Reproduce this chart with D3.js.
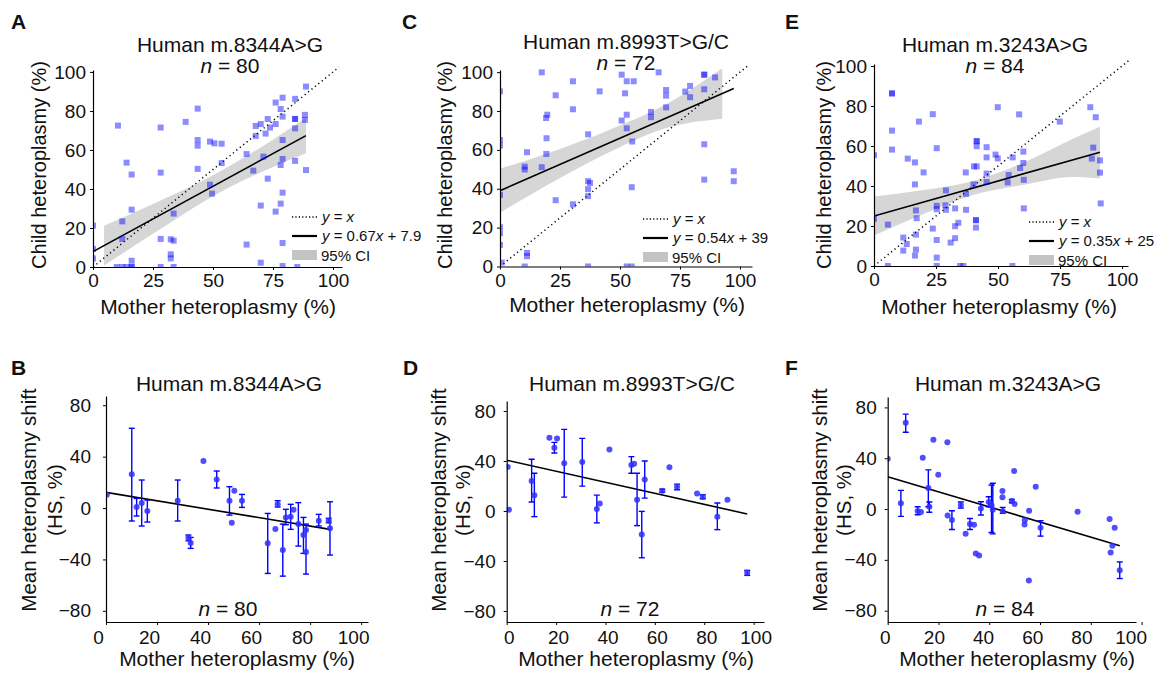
<!DOCTYPE html>
<html><head><meta charset="utf-8">
<script src="https://cdn.jsdelivr.net/npm/d3@7"></script>
<style>
body{margin:0;background:#fff;}
svg{font-family:"Liberation Sans",Arial,Helvetica,sans-serif;}
</style></head><body>
<svg id="chart" width="1160" height="673"></svg>
<script>
// ---------------- DATA ----------------
// Panel A  (m.8344A>G)  child vs mother heteroplasmy
const motherA = [88.75,79,84.2,76.1,78.2,43.6,72.8,79,84.2,84.2,88.3,88.3,84.2,38.6,10.4,28.2,67.8,69.9,73.75,71.9,67.8,76.1,79,43.6,43.6,48.75,50.6,53.6,64,71,79,84.2,53.6,14,16.1,28.2,43.6,88.75,66.8,72.8,78.2,48.75,49.6,79,16.1,69.9,78.2,76.1,33.6,12.2,12.2,28.2,32.4,33.6,32.4,32.4,16.1,64,79,69.9,79,9.9,12.2,14,16.1,16.1,28.2,33.6,85.1,0,0,0];
const childA  = [92.5,86.8,86.2,84.3,81,81.2,75.9,77.1,75.9,75.9,78,75.4,71.1,74.4,72.5,71.5,72.3,73.3,71.5,68.4,67.2,73.3,65.1,65.1,62.2,64.3,63.4,63.2,57.9,56.6,55.4,54.4,53.3,53.5,47.4,48.4,50.3,49.7,49.4,45.3,52.3,42.2,37.6,38.1,29.4,31.5,32.5,28.4,27.4,23.4,14.4,14.4,14.2,13.5,6.5,4.4,3.2,11.5,12.3,2.2,0.5,0,0,0,0,0,0,0,0,21.2,9.2,4.4];
const fitA = [0.67, 7.9];           // slope, intercept
const fitEndA = 88.75;
const ciXA  = [4.6, 25, 50, 75, 88.75];
const ciLoA = [0.8, 17, 36.3, 51.3, 58.3];
const ciHiA = [21.2, 32.3, 47, 65.3, 76.5];

// Panel C  (m.8993T>G/C)
const motherC = [17.4,50.7,66.1,85.1,85.1,89.6,30.4,52.8,55.7,0,41.5,52.1,23.2,69.2,69.2,77.2,79.2,79.2,85.1,30.4,19.7,19.2,62.9,62.9,69.2,52.8,50.7,52.8,36.7,19.4,0,0,55.1,11.25,19.3,10.3,10.3,17.4,36.7,37.5,36.7,36.7,54.9,23.2,30.4,0,0,0,0,11.25,11.25,0.7,85.1,85.1,97.4,97.4,10.3,36.7,52.8,54.9];
const childC  = [99.9,98.7,99.9,98.7,98.7,97.3,95.3,95.3,95.3,90.1,90.1,89.1,88.1,90.8,87.9,90,92.9,87.1,91.2,80.9,78.1,76.4,79.5,76.8,81.9,78.1,75.1,71.1,68,66,65.1,62.2,64.3,58.8,57.9,51.4,49.9,51.1,43.9,43,39.8,36.2,40.8,34.1,32,36.8,20.2,17.1,11.1,7,5.3,2,62.9,44.7,49,43.9,0,0,0,0];
const fitC = [0.54, 39];
const fitEndC = 97.4;
const ciXC  = [0, 25, 45, 70, 92.6];
const ciLoC = [27.7, 45.5, 58.5, 71.5, 76];
const ciHiC = [50.3, 60.5, 70, 84, 102];

// Panel E  (m.3243A>G)
const motherE = [7.26,7.26,7.26,7.26,0,18.1,23.7,49.9,58.5,74.9,87.2,89.4,25.3,41.4,41.4,41.4,45.4,45.4,49,49.9,55.9,60.2,60.2,58.9,88.4,87.8,91.1,91.1,13.6,16.5,20,16.5,40.3,41.4,37,45.4,45.4,54.3,53.9,60.4,40.1,37.1,29,16.9,17.2,25.3,25.3,28.8,29,32.7,37.1,60.4,91.4,0,5.6,23.7,41.1,41.1,41.1,32.7,34,11.8,13.2,16.9,25.3,32.7,30.9,11.8,16.9,16.5,25.3,5.6,25.3,34.7,36,55.8];
const childE  = [86.3,86.3,67.7,58.2,55.4,72.2,75.9,79.4,75.8,72.2,79.4,74.4,58.9,62.4,62.4,59.9,59.4,54.3,55.7,53.8,54.3,57.2,51.5,49,59.2,53.7,52.8,46.7,53.7,51.8,46.8,40.8,49.8,49.8,46.8,46.2,42,45.5,41.8,43.1,40.8,36.1,37.8,27.8,23.9,30.1,28.4,30.3,28.1,28.8,28.1,28.8,31.3,23.6,20.7,18.7,22.9,22.9,19.2,19.9,21.6,14.2,11,15.7,13,13.9,11.7,7.7,8.2,5.2,4.2,0,0,0,0,0];
const fitE = [0.35, 25];
const fitEndE = 91.1;
const ciXE  = [0, 20, 40, 60, 80, 91.1];
const ciLoE = [15.2, 26, 35.5, 40.5, 44.5, 43.8];
const ciHiE = [34.8, 38, 42.5, 51.5, 63.5, 69.6];

// Panel B  (mean heteroplasmy shift, m.8344A>G)
const hsXB  = [0.3,10.1,12,14,16.2,28.1,32.3,33.2,38.2,43.4,48.4,49.3,50.3,53.3,63.4,66.4,67.3,69.3,70.5,72.4,73.5,75.4,77.4,78.4,78.4,83.4,87.3,87.8];
const hsYB  = [10.4,26.2,0.8,3.9,-2.3,5.7,-23.1,-27.3,36.6,22.3,5.7,-11.4,13.5,5.7,-27.5,-16.4,2.9,-32.7,-7.3,-6.8,-1.3,-12.5,-21,-17.1,-34.3,-9.9,-9.9,-15.8];
const hsLoB = [null,-10.1,-6.2,-14,-10.9,-10.1,-25.5,-31.4,null,15.6,-5.5,null,null,0.5,-50.9,null,0.8,-53,-13,-16.6,null,-29.6,-35.3,null,-51.4,-14,-11.4,-36.6];
const hsHiB = [null,62.1,7.5,21.8,6.2,21.8,-21,-22.9,null,28.8,16.6,null,null,10.6,-4.2,null,5.7,-12.5,-1,2.9,null,4.2,-7.3,null,-12.5,-4.9,-8,4.9];
const fitB = [-0.328, 12.2];
const fitEndB = 87.8;

// Panel D  (m.8993T>G/C)
const hsXD  = [0.4,0.9,10.1,11.2,17.3,19.3,20.4,23.3,30.6,36.5,37.7,41.6,50.5,51.6,52.8,54.7,55.9,63,65.9,69,77.1,79.4,85.3,89.4,97.4];
const hsYD  = [35.3,1.1,24.1,12.7,58.6,50.7,58.1,38.2,39.3,1.6,6.1,49.3,36.9,37.9,9,-18.8,25.2,16.2,35,19.4,14.1,11.4,-4.5,9,-49.3];
const hsLoD = [null,null,7.2,-4.5,null,46.4,null,11.1,19.9,-9.5,null,null,30.2,null,-11.7,-37.4,10.3,15,null,17,null,9.8,-14.9,null,-51.5];
const hsHiD = [null,null,41.4,30.2,null,54.9,null,65.3,58.1,12.7,null,null,43.5,null,30.2,-0.3,40,17.4,null,21.5,null,13,6.4,null,-47.5];
const fitD = [-0.441, 40.6];
const fitEndD = 97.4;

// Panel F  (m.3243A>G)
const hsXF  = [0,7.1,5.2,11.8,13.1,13.8,16,16.4,18,19.9,23.5,23.6,25.3,28.8,30.7,32.4,34,34.7,36,36.7,39.8,40.9,41.4,45.2,45.2,45.3,48.9,49.8,50,53.9,54,55.6,55.7,58.3,60.2,74.8,87.4,89.4,88.5,87.8,91.4];
const hsYF  = [39.5,67.9,4.5,-1.6,-2.4,40.3,16.6,1.8,54.5,27.1,52.6,-5,-8.7,3.2,-19.5,-11.8,-12.4,-35,-36.6,0.5,5.5,3,-0.5,14.2,9.2,-1.6,6.3,30,3.9,-12.1,-8.9,-56.3,-1.3,17.6,-14.7,-2.1,-7.9,-14.7,-28.9,-34.2,-48.2];
const hsLoF = [null,60.5,-5.8,-4.5,null,null,1.8,-2.5,null,null,null,null,-16.1,0.8,null,-16.1,null,null,null,-4.7,1.8,-18.5,-19.5,null,null,-3.4,5,null,null,null,null,null,null,null,-21.3,null,null,null,null,null,-54.7];
const hsHiF = [null,74.7,14.7,1.8,null,null,30.8,5.5,null,null,null,null,-1.3,5.5,null,-7.4,null,null,null,5.8,9.7,18.9,20.3,null,null,1.3,7.5,null,null,null,null,null,null,null,-9.2,null,null,null,null,null,-41.6];
const fitF = [-0.595, 25.5];
const fitEndF = 91.4;

// Tick labels
const topXTicks = [0, 25, 50, 75, 100];
const topYTicks = [0, 20, 40, 60, 80, 100];
const botXTicks = [0, 20, 40, 60, 80, 100];
const botYTicks = [-80, -40, 0, 40, 80];

// ---------------- DRAWING ----------------
const svg = d3.select("#chart");
const TXT = "#111";
const fmt = v => (v < 0 ? "\u2212" + Math.abs(v) : String(v));

function addText(x, y, str, size, opts = {}) {
  const t = svg.append("text").attr("x", x).attr("y", y)
    .attr("font-size", size).attr("fill", TXT)
    .attr("text-anchor", opts.anchor || "middle");
  if (str) t.text(str);
  if (opts.weight) t.attr("font-weight", opts.weight);
  if (opts.rotate) t.attr("transform", `rotate(-90,${x},${y})`);
  return t;
}
function nText(x, y, n, size) {
  const t = addText(x, y, "", size);
  t.append("tspan").attr("font-style", "italic").text("n");
  t.append("tspan").text(" = " + n);
}

function styleAxis(g, size) {
  g.select(".domain").attr("stroke", "#000").attr("stroke-width", 1.2);
  g.selectAll(".tick line").attr("stroke", "#000").attr("stroke-width", 1);
  g.selectAll(".tick text").attr("font-size", size).attr("fill", TXT)
    .attr("font-family", '"Liberation Sans",Arial,sans-serif');
}

function drawTop(L, mother, child, fit, fitEnd, ciX, ciLo, ciHi, fitLabel) {
  const x = d3.scaleLinear().domain([0, L.xMax]).range([L.xl, L.xr]);
  const y = d3.scaleLinear().domain([0, L.yMax]).range([L.yb, L.yt]);
  const cid = "clip" + L.id;
  svg.append("clipPath").attr("id", cid).append("rect")
    .attr("x", L.xl).attr("y", L.yt - 6).attr("width", L.xr - L.xl + 4).attr("height", L.yb - L.yt + 6);
  const plot = svg.append("g").attr("clip-path", `url(#${cid})`);
  const band = ciX.map((v, i) => [v, ciLo[i], ciHi[i]]);
  plot.append("path").datum(band)
    .attr("d", d3.area().x(d => x(d[0])).y0(d => y(d[1])).y1(d => y(d[2])).curve(d3.curveMonotoneX))
    .attr("fill", "#d6d6d6");
  plot.append("line").attr("x1", x(0)).attr("y1", y(0)).attr("x2", x(L.idMax)).attr("y2", y(L.idMax))
    .attr("stroke", "#000").attr("stroke-width", 1.5).attr("stroke-dasharray", "1.2,3.2");
  plot.append("line").attr("x1", x(0)).attr("y1", y(fit[1]))
    .attr("x2", x(fitEnd)).attr("y2", y(fit[0] * fitEnd + fit[1]))
    .attr("stroke", "#000").attr("stroke-width", 1.6);
  plot.selectAll("rect.pt").data(mother.map((m, i) => [m, child[i]])).join("rect")
    .attr("x", d => x(d[0]) - 3).attr("y", d => y(d[1]) - 3)
    .attr("width", 6).attr("height", 6)
    .attr("fill", "#0000ff").attr("fill-opacity", 0.45);

  const gx = svg.append("g").attr("transform", `translate(0,${L.yb})`)
    .call(d3.axisBottom(x).tickValues(topXTicks).tickSize(3).tickSizeOuter(0).tickPadding(4));
  styleAxis(gx, 19);
  const gy = svg.append("g").attr("transform", `translate(${L.xl},0)`)
    .call(d3.axisLeft(y).tickValues(topYTicks).tickSize(3).tickSizeOuter(0).tickPadding(4));
  styleAxis(gy, 19);

  // titles
  addText(L.titleX, L.titleY, L.title, 21);
  nText(L.titleX, L.titleY + 21, L.n, 21);
  addText(L.xTitleX, L.xTitleY, "Mother heteroplasmy (%)", 21);
  addText(L.yTitleX, L.yTitleY, "Child heteroplasmy (%)", 20, { rotate: true });
  addText(L.letterX, 29, L.letter, 21, { anchor: "start", weight: "bold" });

  // legend
  const lx = L.legX, ly = L.legY;
  svg.append("line").attr("x1", lx).attr("x2", lx + 25).attr("y1", ly).attr("y2", ly)
    .attr("stroke", "#000").attr("stroke-width", 1.3).attr("stroke-dasharray", "1.2,2.2");
  const t1 = addText(lx + 30, ly + 5, "", 15, { anchor: "start" });
  t1.append("tspan").attr("font-style", "italic").text("y");
  t1.append("tspan").text(" = ");
  t1.append("tspan").attr("font-style", "italic").text("x");
  svg.append("line").attr("x1", lx).attr("x2", lx + 25).attr("y1", ly + 19).attr("y2", ly + 19)
    .attr("stroke", "#000").attr("stroke-width", 2.2);
  const t2 = addText(lx + 30, ly + 24, "", 15, { anchor: "start" });
  t2.append("tspan").attr("font-style", "italic").text("y");
  t2.append("tspan").text(" = " + fitLabel[0]);
  t2.append("tspan").attr("font-style", "italic").text("x");
  t2.append("tspan").text(" + " + fitLabel[1]);
  svg.append("rect").attr("x", lx).attr("y", ly + 33).attr("width", 25).attr("height", 10)
    .attr("fill", "#c4c4c4");
  addText(lx + 29, ly + 44, "95% CI", 15, { anchor: "start" });
}

function drawBottom(L, hx, hy, lo, hi, fit, fitEnd) {
  const x = d3.scaleLinear().domain([0, L.xMax]).range([L.xl, L.xr]);
  const y = d3.scaleLinear().domain([L.yMin, L.yMax]).range([L.yb, L.yt]);
  const cid = "clip" + L.id;
  svg.append("clipPath").attr("id", cid).append("rect")
    .attr("x", L.xl).attr("y", L.yt).attr("width", L.xr - L.xl + 4).attr("height", L.yb - L.yt);
  const plot = svg.append("g").attr("clip-path", `url(#${cid})`);
  plot.append("line").attr("x1", x(0)).attr("y1", y(fit[1]))
    .attr("x2", x(fitEnd)).attr("y2", y(fit[0] * fitEnd + fit[1]))
    .attr("stroke", "#000").attr("stroke-width", 1.6);
  const pts = hx.map((v, i) => ({ x: v, y: hy[i], lo: lo[i], hi: hi[i] }));
  const eb = pts.filter(d => d.lo !== null);
  plot.selectAll("line.eb").data(eb).join("line")
    .attr("x1", d => x(d.x)).attr("x2", d => x(d.x)).attr("y1", d => y(d.lo)).attr("y2", d => y(d.hi))
    .attr("stroke", "#0000ff").attr("stroke-width", 1.4);
  ["lo", "hi"].forEach(k => {
    plot.selectAll("line.cap" + k).data(eb).join("line")
      .attr("x1", d => x(d.x) - 3).attr("x2", d => x(d.x) + 3).attr("y1", d => y(d[k])).attr("y2", d => y(d[k]))
      .attr("stroke", "#0000ff").attr("stroke-width", 1.4);
  });
  plot.selectAll("circle").data(pts).join("circle")
    .attr("cx", d => x(d.x)).attr("cy", d => y(d.y)).attr("r", 3)
    .attr("fill", "#2f2fff").attr("fill-opacity", 0.85);

  const gx = svg.append("g").attr("transform", `translate(0,${L.yb})`)
    .call(d3.axisBottom(x).tickValues(botXTicks).tickSize(3).tickSizeOuter(0).tickPadding(6));
  styleAxis(gx, 19);
  gx.selectAll(".tick text").attr("dx", d => L.labShift + L.labSqueeze * d);
  const gy = svg.append("g").attr("transform", `translate(${L.xl},0)`)
    .call(d3.axisLeft(y).tickValues(botYTicks).tickFormat(fmt).tickSize(3).tickSizeOuter(0).tickPadding(L.yPad));
  styleAxis(gy, 19);

  addText(L.titleX, 391, L.title, 21);
  nText(L.nX, 616, L.n, 21);
  addText(L.xTitleX, 666, "Mother heteroplasmy (%)", 21);
  addText(L.yT1, 500, "Mean heteroplasmy shift", 20.5, { rotate: true });
  addText(L.yT2, 500, "(HS, %)", 20.5, { rotate: true });
  addText(L.letterX, 375, L.letter, 21, { anchor: "start", weight: "bold" });
}

// ---------------- LAYOUT ----------------
drawTop({ id: "A", letter: "A", letterX: 11, xl: 93, xr: 342, xMax: 103.75, yb: 267, yt: 70, yMax: 101, idMax: 102.5,
  title: "Human m.8344A>G", n: 80, titleX: 230, titleY: 52, xTitleX: 218, xTitleY: 314, yTitleX: 46, yTitleY: 165,
  legX: 292, legY: 217 }, motherA, childA, fitA, fitEndA, ciXA, ciLoA, ciHiA, ["0.67", "7.9"]);
drawTop({ id: "C", letter: "C", letterX: 402, xl: 500, xr: 752, xMax: 105, yb: 266.5, yt: 70, yMax: 101.1, idMax: 104,
  title: "Human m.8993T>G/C", n: 72, titleX: 626, titleY: 49, xTitleX: 627, xTitleY: 312, yTitleX: 452, yTitleY: 165,
  legX: 643, legY: 219 }, motherC, childC, fitC, fitEndC, ciXC, ciLoC, ciHiC, ["0.54", "39"]);
drawTop({ id: "E", letter: "E", letterX: 785, xl: 874, xr: 1128, xMax: 102.4, yb: 266, yt: 64, yMax: 101, idMax: 103,
  title: "Human m.3243A>G", n: 84, titleX: 995, titleY: 52, xTitleX: 999, xTitleY: 314, yTitleX: 831, yTitleY: 165,
  legX: 1029, legY: 222 }, motherE, childE, fitE, fitEndE, ciXE, ciLoE, ciHiE, ["0.35", "25"]);

drawBottom({ id: "B", letter: "B", letterX: 11, xl: 106, xr: 368, xMax: 102.7, yb: 622, yt: 396, yMin: -88.7, yMax: 87.2,
  labShift: -8, labSqueeze: 0, yPad: 12, title: "Human m.8344A>G", titleX: 229, n: 80, nX: 228, xTitleX: 237, yT1: 36, yT2: 62 },
  hsXB, hsYB, hsLoB, hsHiB, fitB, fitEndB);
drawBottom({ id: "D", letter: "D", letterX: 403, xl: 506.7, xr: 764, xMax: 104.2, yb: 622, yt: 401, yMin: -88.8, yMax: 88,
  labShift: 2, labSqueeze: 0, yPad: 8, title: "Human m.8993T>G/C", titleX: 632, n: 72, nX: 630, xTitleX: 636, yT1: 446, yT2: 470 },
  hsXD, hsYD, hsLoD, hsHiD, fitD, fitEndD);
drawBottom({ id: "F", letter: "F", letterX: 785, xl: 887.7, xr: 1136, xMax: 97.8, yb: 622, yt: 397, yMin: -88.9, yMax: 88.2,
  labShift: -3, labSqueeze: -0.08, yPad: 8, title: "Human m.3243A>G", titleX: 1008, n: 84, nX: 1005, xTitleX: 1017, yT1: 827, yT2: 851 },
  hsXF, hsYF, hsLoF, hsHiF, fitF, fitEndF);
</script>
</body></html>
